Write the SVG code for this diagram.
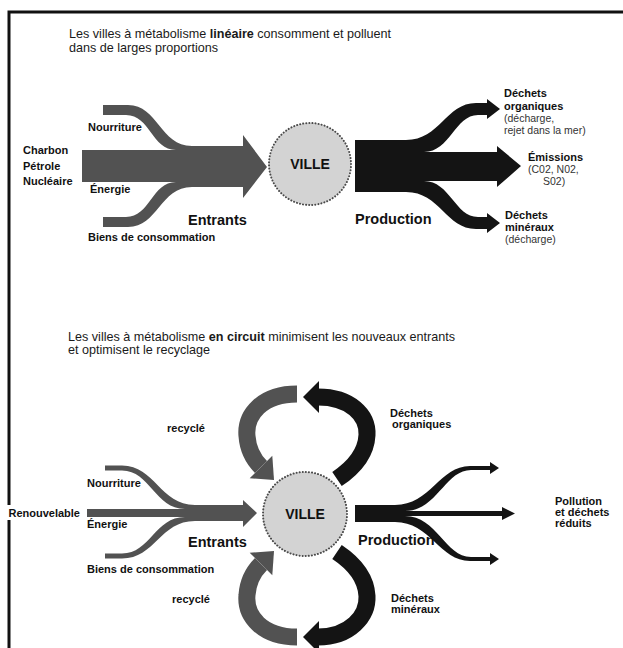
<svg xmlns="http://www.w3.org/2000/svg" width="623" height="648" viewBox="0 0 623 648">
<style>
.title{font-family:"Liberation Sans",Arial,sans-serif;font-size:12.6px;fill:#1a1a1a}
.b{font-weight:bold}
.lbl{font-family:"Liberation Sans",Arial,sans-serif;font-size:11px;font-weight:bold;fill:#111}
.sm{font-family:"Liberation Sans",Arial,sans-serif;font-size:10.5px;fill:#333}
.big{font-family:"Liberation Sans",Arial,sans-serif;font-size:14.5px;font-weight:bold;fill:#111}
.ville{font-family:"Liberation Sans",Arial,sans-serif;font-size:14px;font-weight:bold;fill:#111;text-anchor:middle}
.city{fill:#d3d3d3;stroke:#4a4a4a;stroke-width:2;stroke-dasharray:0.1 3;stroke-linecap:round}
.grey{fill:#525252}
.black{fill:#141414}
.garc{fill:none;stroke:#525252;stroke-width:17}
.barc{fill:none;stroke:#141414;stroke-width:17}
</style>
<rect x="0" y="0" width="623" height="648" fill="#ffffff"/>
<path d="M9,648 V12 H623" fill="none" stroke="#111" stroke-width="3"/>

<g id="title-lineaire">
<text class="title" x="69" y="37.5">Les villes à métabolisme <tspan class="b">linéaire</tspan> consomment et polluent</text>
<text class="title" x="69" y="51.5">dans de larges proportions</text>
</g>

<g id="connectors">
<path class="grey" d="M103,105 H128 C158,105 160,146 192,146 H243 V135 L267,167 L243,198 V187 H192 C160,187 158,227 128,227 H103 V217 H126 C150,217 152,182 176,182 H82 V150 H176 C152,150 150,115 126,115 H103 Z"/>
<path class="black" d="M355,140 H406 C440,140 446,103 476,103 H487 V99 L500,109 L487,119 V115 H478 C455,115 450,152 424,152 H497 V146 L521,166 L497,187 V181 H424 C450,181 455,217 478,217 H487 V213 L500,223 L487,233 V229 H476 C446,229 440,192 406,192 H355 Z"/>
<path class="grey" d="M105,465.5 H122 C155,465.5 160,505 195,505 H243 V500 L257,513 L243,527 V521 H195 C160,521 155,558.5 122,558.5 H105 V553.5 H122 C150,553.5 155,517 185,517 H87 V509 H185 C155,509 150,470.5 122,470.5 H105 Z"/>
<path class="black" d="M355,505 H395 C430,505 440,466 470,466 H490 V462 L499,468 L490,474 V470 H471 C445,470 437,511 405,511 H502 V507 L515,513.5 L502,520 V516 H405 C437,516 445,557 471,557 H490 V553 L499,559 L490,565 V561 H470 C440,561 430,522 395,522 H355 Z"/>
<path class="garc" d="M297,394 C262,394 245,415 247,436 C248,450 254,460 261,467"/>
<polygon class="grey" points="272.3,455.7 249.7,478.3 274,480"/>
<path class="garc" d="M297,637 C262,637 245,616 247,595 C248,581 254,571 261,564"/>
<polygon class="grey" points="272.3,575.3 249.7,552.7 274,551"/>
<path class="barc" d="M318,397 C350,397 368,415 367,435 C366,455 352,469 337,479"/>
<polygon class="black" points="319,381 303,397 319,413"/>
<path class="barc" d="M337,552 C352,562 366,576 367,596 C368,616 350,637 318,637"/>
<polygon class="black" points="319,621 303,637 319,653"/>
</g>

<g id="ville-lineaire">
<circle class="city" cx="310" cy="164" r="41"/>
<text class="ville" x="310" y="169">VILLE</text>
</g>

<g id="sources-lineaire">
<text class="lbl" x="23" y="154">Charbon</text>
<text class="lbl" x="23" y="170">Pétrole</text>
<text class="lbl" x="23" y="185">Nucléaire</text>
<text class="lbl" x="88" y="131">Nourriture</text>
<text class="lbl" x="90" y="193">Énergie</text>
<text class="big" x="188" y="225">Entrants</text>
<text class="lbl" x="88" y="241">Biens de consommation</text>
</g>

<g id="sorties-lineaire">
<text class="lbl" x="504" y="97">Déchets</text>
<text class="lbl" x="504" y="110">organiques</text>
<text class="sm" x="504" y="122">(décharge,</text>
<text class="sm" x="504" y="134">rejet dans la mer)</text>
<text class="lbl" x="528" y="161">Émissions</text>
<text class="sm" x="528" y="173">(C02, N02,</text>
<text class="sm" x="543" y="185">S02)</text>
<text class="big" x="355" y="224">Production</text>
<text class="lbl" x="505" y="219">Déchets</text>
<text class="lbl" x="505" y="231">minéraux</text>
<text class="sm" x="505" y="243">(décharge)</text>
</g>

<g id="title-circuit">
<text class="title" x="68" y="341">Les villes à métabolisme <tspan class="b">en circuit</tspan>  minimisent les nouveaux entrants</text>
<text class="title" x="68" y="354">et optimisent le recyclage</text>
</g>

<g id="ville-circuit">
<circle class="city" cx="305" cy="514" r="42"/>
<text class="ville" x="305" y="519">VILLE</text>
</g>

<g id="sources-circuit">
<rect x="0" y="505" width="12" height="15" fill="#ffffff"/>
<text class="lbl" x="80" y="517" font-size="12" text-anchor="end">Renouvelable</text>
<text class="lbl" x="87" y="487">Nourriture</text>
<text class="lbl" x="87" y="528">Énergie</text>
<text class="big" x="188" y="547">Entrants</text>
<text class="lbl" x="87" y="573">Biens de consommation</text>
<text class="lbl" x="167" y="432">recyclé</text>
<text class="lbl" x="172" y="603">recyclé</text>
</g>

<g id="sorties-circuit">
<text class="lbl" x="390" y="417">Déchets</text>
<text class="lbl" x="392" y="428">organiques</text>
<text class="lbl" x="555" y="505">Pollution</text>
<text class="lbl" x="555" y="516">et déchets</text>
<text class="lbl" x="555" y="527">réduits</text>
<text class="big" x="358" y="545">Production</text>
<text class="lbl" x="391" y="602">Déchets</text>
<text class="lbl" x="391" y="613">minéraux</text>
</g>
</svg>
